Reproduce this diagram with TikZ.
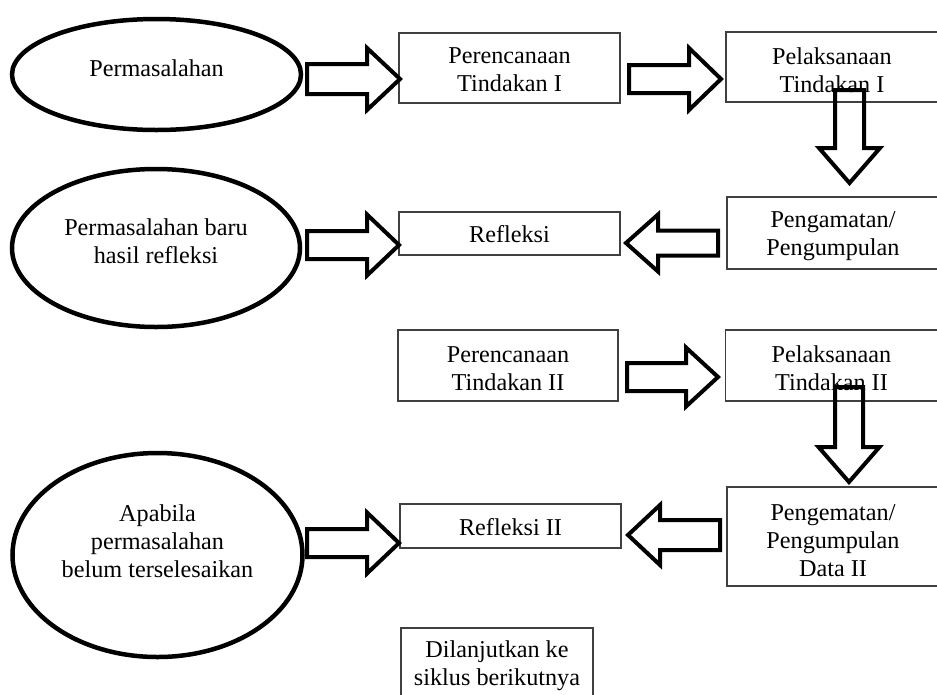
\documentclass[tikz,border=0pt]{standalone}
\usepackage{fontspec}
\setmainfont{Liberation Serif}
\usetikzlibrary{shapes.geometric}
\newcommand{\BlkH}[6]{% shaft start x, head base x, tip x, centre y, shaft half, head half
  \draw[blockarrow] ({#1},{#4-#5}) -- ({#2},{#4-#5}) -- ({#2},{#4-#6}) -- ({#3},{#4})
    -- ({#2},{#4+#6}) -- ({#2},{#4+#5}) -- ({#1},{#4+#5}) -- cycle;}
\newcommand{\BlkV}[6]{% shaft start y, head base y, tip y, centre x, shaft half, head half
  \draw[blockarrow] ({#4-#5},{#1}) -- ({#4-#5},{#2}) -- ({#4-#6},{#2}) -- ({#4},{#3})
    -- ({#4+#6},{#2}) -- ({#4+#5},{#2}) -- ({#4+#5},{#1}) -- cycle;}
\tikzset{
  txt/.style={align=center, inner sep=0pt, font=\fontsize{24.2}{28}\selectfont},
  oval/.style={ellipse, draw=black, line width=4.5pt, inner sep=0pt},
  boxnode/.style={rectangle, draw=black!75, line width=1.2pt, inner sep=0pt},
  blockarrow/.style={draw=black, line width=4pt, line join=miter, miter limit=10},
}
\begin{document}
\begin{tikzpicture}[x=1pt,y=-1pt]
\useasboundingbox (0,0) rectangle (937,694);
\fill[white] (0,0) rectangle (937,694);
\begin{scope}
\clip (0,0) rectangle (937,694);
% ellipses
\node[oval, minimum width=289pt, minimum height=111pt,
  label={[txt,yshift=6pt]center:Permasalahan}] (e1) at (156.5,74.5) {};
\node[oval, minimum width=288pt, minimum height=158pt,
  label={[txt,yshift=7pt]center:Permasalahan baru\\hasil refleksi}] (e2) at (156,248) {};
\node[oval, minimum width=290pt, minimum height=204pt,
  label={[txt,yshift=14pt]center:Apabila\\permasalahan\\belum terselesaikan}] (e3) at (157.5,555) {};
% boxes
\node[boxnode, minimum width=221pt, minimum height=70pt,
  label={[txt,yshift=-2pt]center:Perencanaan\\Tindakan I}] (b1) at (509.5,68) {};
\node[boxnode, minimum width=212pt, minimum height=70pt,
  label={[txt,yshift=-3pt]center:Pelaksanaan\\Tindakan I}] (b2) at (832,67) {};
\node[boxnode, minimum width=221pt, minimum height=43pt,
  label={[txt,yshift=-1pt]center:Refleksi}] (b3) at (509.5,233.5) {};
\node[boxnode, minimum width=212pt, minimum height=72pt,
  label={[txt,yshift=-3pt]center:Pengamatan/\\Pengumpulan}] (b4) at (833,233) {};
\node[boxnode, minimum width=220pt, minimum height=71pt,
  label={[txt,yshift=-3pt]center:Perencanaan\\Tindakan II}] (b5) at (508,365.5) {};
\node[boxnode, minimum width=212pt, minimum height=71pt,
  label={[txt,yshift=-3pt]center:Pelaksanaan\\Tindakan II}] (b6) at (831.5,365.5) {};
\node[boxnode, minimum width=212pt, minimum height=99pt,
  label={[txt,yshift=-4pt]center:Pengematan/\\Pengumpulan\\Data II}] (b7) at (833,536.5) {};
\node[boxnode, minimum width=221pt, minimum height=44pt,
  label={[txt,yshift=-1pt]center:Refleksi II}] (b8) at (510.5,526) {};
\node[boxnode, minimum width=192pt, minimum height=76pt,
  label={[txt]center:Dilanjutkan ke\\siklus berikutnya}] (b9) at (497,666) {};
% block arrows
\BlkH{307}{367}{400}{79}{15}{31}
\BlkH{629}{689}{721}{79}{14}{31}
\BlkV{90}{148}{183}{849.5}{14.5}{30.5}
\BlkH{718}{658}{626}{243}{12.5}{28.5}
\BlkH{307}{367}{399}{245}{14}{30.5}
\BlkH{627}{686}{718}{377}{14}{29.5}
\BlkV{387}{447}{482}{849}{14}{30.5}
\BlkH{720}{660}{628}{535}{15}{30}
\BlkH{307}{367}{399}{543}{14}{30.5}
\end{scope}
\end{tikzpicture}
\end{document}
